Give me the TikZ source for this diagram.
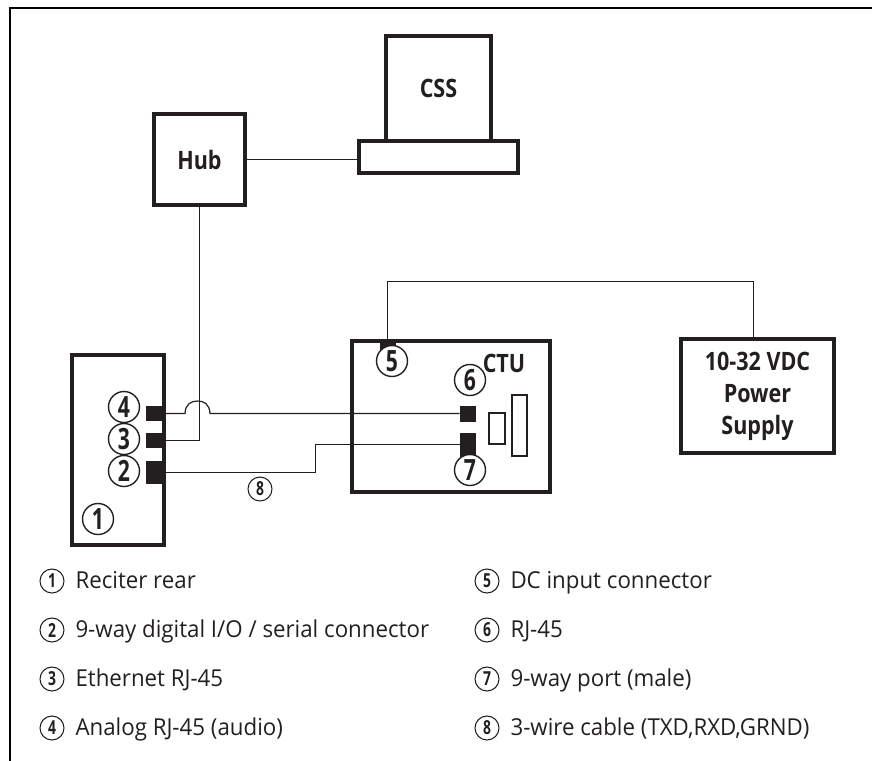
\documentclass[tikz,border=0pt]{standalone}
\usepackage{fontspec}
\setmainfont[FakeStretch=0.955]{Open Sans}
\newfontfamily\boxfont[FakeStretch=0.85]{Open Sans}
\newfontfamily\digitfont[FakeStretch=0.72]{Open Sans}
\usetikzlibrary{calc}

\definecolor{inkblack}{HTML}{231F20}

\tikzset{every picture/.style={line width=0.75pt}}
\tikzset{
  boxed/.style={draw=inkblack,line width=2.3pt,fill=white,inner sep=0pt,align=center,font=\boxfont\bfseries\fontsize{19}{24}\selectfont,text=inkblack},
  port/.style={fill=inkblack,inner sep=0pt},
  slot/.style={draw=inkblack,line width=0.9pt,fill=white,inner sep=0pt},
  wire/.style={draw=inkblack,line width=0.9pt},
  callout/.style={circle,draw=inkblack,line width=1.05pt,fill=white,inner sep=0pt,minimum size=23.25pt,font=\digitfont\bfseries\fontsize{22}{22}\selectfont,text=inkblack},
  smallcallout/.style={circle,draw=inkblack,line width=0.8pt,fill=white,inner sep=0pt,minimum size=18pt,font=\digitfont\bfseries\fontsize{14.5}{14.5}\selectfont,text=inkblack},
  legend/.style={anchor=base west,inner sep=0pt,font=\fontsize{17.5}{20}\selectfont,text=inkblack}
}

\begin{document}
\begin{tikzpicture}[x=0.75pt,y=0.75pt,yscale=-1,xscale=1]
        \useasboundingbox (0,0) rectangle (872,761);

        %Page frame
        \draw [line width=1.5pt] (872,7.5) -- (10,7.5) -- (10,761) ;

        %Shape: Rectangle (boxes)
        \node (cssscreen) [boxed,minimum width=78.75pt,minimum height=78.75pt] at (438.5,88.5) {CSS};
        \node (cssbase) [boxed,minimum width=119.25pt,minimum height=24pt] at (438.5,157) {};
        \node (hub) [boxed,minimum width=68.25pt,minimum height=68.25pt] at (199.5,159.5) {Hub};
        \node (reciter) [boxed,minimum width=69pt,minimum height=142.5pt] at (118,450) {};
        \node (ctu) [boxed,minimum width=148.5pt,minimum height=113.25pt] at (451,416.5) {};
        \node (supply) [boxed,minimum width=114.75pt,minimum height=85.5pt] at (757.5,396) {10-32 VDC\\Power\\Supply};

        %Shape: Rectangle (ports)
        \node (port4) [port,minimum width=13.5pt,minimum height=11.25pt] at (155,413.5) {};
        \node (port3) [port,minimum width=13.5pt,minimum height=11.25pt] at (155,440.5) {};
        \node (port2) [port,minimum width=13.5pt,minimum height=17.25pt] at (155,472.5) {};
        \node (port5) [port,minimum width=12pt,minimum height=6.75pt] at (387.5,345.5) {};
        \node (port6) [port,minimum width=12pt,minimum height=12pt] at (468,413.5) {};
        \node (port7) [port,minimum width=12pt,minimum height=18pt] at (468,444.5) {};
        \node (slotsmall) [slot,minimum width=12pt,minimum height=23.25pt] at (497,428.5) {};
        \node (slottall) [slot,minimum width=11.25pt,minimum height=45.75pt] at (519.5,425.5) {};

        %Straight Lines
        \draw [wire] (hub.east) -- (hub.east -| cssbase.west) ;
        \coordinate (jumpa) at (185,413.5) ;
        \coordinate (jumpb) at (210,413.5) ;
        \draw [wire] (hub.south) |- (port3.east) ;
        \draw [wire] (port4.east) -- (jumpa) .. controls (185.5,404) and (191,401) .. (197.5,401) .. controls (204,401) and (209.5,404) .. (jumpb) -- (port6.west) ;
        \draw [wire] (port2.east) -- (315.5,472.5) -- (315.5,444.5) -- (port7.west) ;
        \draw [wire] (port5.north) |- (753.5,281.5) -- (753.5,339) ;

        % Text Node
        \node (ctulabel) [inner sep=0pt,font=\boxfont\bfseries\fontsize{19}{20}\selectfont,text=inkblack] at (504,363) {CTU};

        % Callouts
        \node (c1) [callout] at (98,519) {1};
        \node (c2) [callout] at (124,471) {2};
        \node (c3) [callout] at (124,439) {3};
        \node (c4) [callout] at (124,407) {4};
        \node (c5) [callout] at (392,361) {5};
        \node (c6) [callout] at (470,380) {6};
        \node (c7) [callout] at (470,470) {7};
        \node (c8) [smallcallout] at (260,489) {8};

        % Legend
        \foreach \num/\ypos/\txt in {1/581/Reciter rear,2/630/{9-way digital I/O / serial connector},3/679/Ethernet RJ-45,4/728/Analog RJ-45 (audio)}{
          \node (lc\num) [smallcallout] at (52,\ypos) {\num};
          \node (lt\num) [legend] at (75,\ypos+7) {\txt};
        }
        \foreach \num/\ypos/\txt in {5/581/DC input connector,6/630/RJ-45,7/679/9-way port (male),8/728/{3-wire cable (TXD,RXD,GRND)}}{
          \node (lc\num) [smallcallout] at (487,\ypos) {\num};
          \node (lt\num) [legend] at (510,\ypos+7) {\txt};
        }
\end{tikzpicture}
\end{document}
